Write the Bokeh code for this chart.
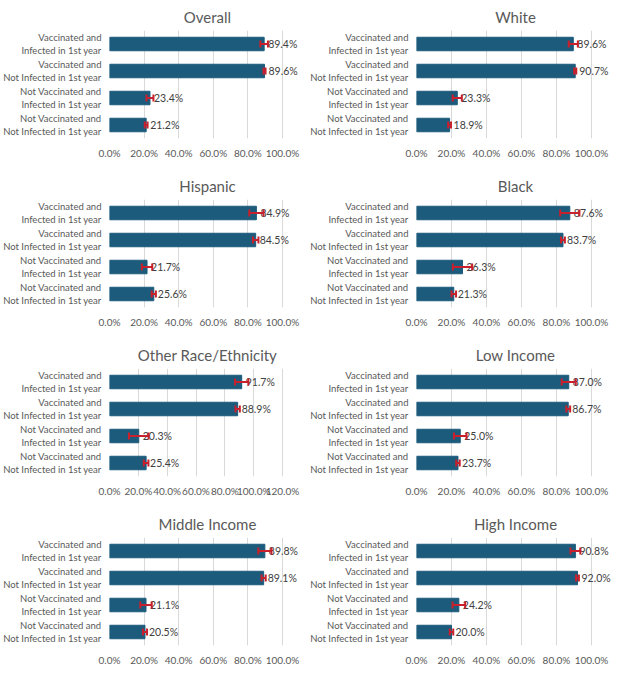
from bokeh.plotting import figure
from bokeh.models import ColumnDataSource, FixedTicker, PrintfTickFormatter, Whisker, TeeHead, Range1d
from bokeh.layouts import column, row
from bokeh.embed import file_html
from bokeh.resources import INLINE
from bokeh.core.properties import value

categories = [
    "Vaccinated and\nInfected in 1st year",
    "Vaccinated and\nNot Infected in 1st year",
    "Not Vaccinated and\nInfected in 1st year",
    "Not Vaccinated and\nNot Infected in 1st year",
]
titles = ["Overall", "White", "Hispanic", "Black",
          "Other Race/Ethnicity", "Low Income", "Middle Income", "High Income"]

overall = [89.4, 89.6, 23.4, 21.2]
overall_err = [2.2, 0.6, 2.0, 0.8]
white = [89.6, 90.7, 23.3, 18.9]
white_err = [2.6, 0.6, 2.6, 0.8]
hispanic = [84.9, 84.5, 21.7, 25.6]
hispanic_err = [4.1, 1.6, 3.0, 1.2]
black = [87.6, 83.7, 26.3, 21.3]
black_err = [5.5, 1.1, 5.5, 1.3]
other = [91.7, 88.9, 20.3, 25.4]
other_err = [4.6, 1.5, 6.8, 1.6]
low = [87.0, 86.7, 25.0, 23.7]
low_err = [4.0, 1.1, 3.6, 1.0]
middle = [89.8, 89.1, 21.1, 20.5]
middle_err = [3.8, 1.2, 3.3, 1.2]
high = [90.8, 92.0, 24.2, 20.0]
high_err = [2.8, 0.8, 3.6, 1.0]

ticks_std = [0, 20, 40, 60, 80, 100]
ticks_other = [0, 20, 40, 60, 80, 100, 120]

series = [overall, white, hispanic, black, other, low, middle, high]
errors = [overall_err, white_err, hispanic_err, black_err, other_err, low_err, middle_err, high_err]
tick_sets = [ticks_std, ticks_std, ticks_std, ticks_std, ticks_other, ticks_std, ticks_std, ticks_std]

BAR = "#1C5B7C"
RED = "#C8202C"
GRAY = "#595959"
FONT = "Lato"
ypos = [4, 3, 2, 1]

def make_panel(i):
    col = i % 2
    r = i // 2
    vals = series[i]
    errs = errors[i]
    ticks = tick_sets[i]
    BL, BR = 102, 2
    if col == 0:
        FW, toff, span = 196, -56, 173.0
    else:
        FW, toff, span = 198, -40, 175.0
    scale = span / ticks[-1]
    R = FW / scale
    T = 26 if r == 0 else 35
    B = 20 if r == 3 else 26
    src = ColumnDataSource(dict(
        y=ypos, v=vals,
        lo=[v - e for v, e in zip(vals, errs)],
        hi=[v + e for v, e in zip(vals, errs)],
        lab=["%.1f%%" % v for v in vals],
    ))
    p = figure(frame_width=FW, frame_height=108, x_range=Range1d(0, R), y_range=Range1d(0.5, 4.5),
               output_backend="svg", toolbar_location=None, title=titles[i],
               min_border_left=BL, min_border_right=BR, min_border_top=T, min_border_bottom=B)
    p.title.align = "center"
    p.title.offset = toff
    p.title.text_font_size = "15px"
    p.title.text_font_style = "normal"
    p.title.text_color = GRAY
    p.title.text_font = FONT
    p.title.standoff = 10
    p.outline_line_color = None
    p.background_fill_color = "white"
    p.border_fill_color = "white"

    p.hbar(y="y", left=0, right="v", height=0.5, fill_color=BAR, line_color=BAR, source=src)
    p.text(x="v", y="y", text="lab", x_offset=4, text_baseline="middle", text_align="left",
           text_font_size="10.5px", text_color="#404040", text_font=value(FONT), source=src)
    w = Whisker(source=src, base="y", lower="lo", upper="hi", dimension="width",
                line_color=RED, line_width=2, level="annotation",
                lower_head=TeeHead(size=7, line_color=RED, line_width=2),
                upper_head=TeeHead(size=7, line_color=RED, line_width=2))
    p.add_layout(w)

    p.xaxis.ticker = FixedTicker(ticks=ticks)
    p.xaxis.formatter = PrintfTickFormatter(format="%.1f%%")
    p.xaxis.axis_line_color = None
    p.xaxis.major_tick_line_color = None
    p.xaxis.minor_tick_line_color = None
    p.xaxis.major_tick_out = 0
    p.xaxis.major_tick_in = 0
    p.xaxis.minor_tick_out = 0
    p.xaxis.major_label_text_font_size = "10px"
    p.xaxis.major_label_text_color = GRAY
    p.xaxis.major_label_text_font = FONT
    p.xaxis.major_label_standoff = 8

    p.yaxis.ticker = FixedTicker(ticks=ypos)
    p.yaxis.major_label_overrides = {y: c for y, c in zip(ypos, categories)}
    p.yaxis.axis_line_color = None
    p.yaxis.major_tick_line_color = None
    p.yaxis.minor_tick_line_color = None
    p.yaxis.major_tick_out = 0
    p.yaxis.major_tick_in = 0
    p.yaxis.minor_tick_out = 0
    p.yaxis.major_label_text_font_size = "9.5px"
    p.yaxis.major_label_text_color = GRAY
    p.yaxis.major_label_text_font = FONT
    p.yaxis.major_label_standoff = 8

    p.ygrid.grid_line_color = None
    p.xgrid.grid_line_color = "#D9D9D9"
    p.xgrid.grid_line_width = 1
    return p

panels = [make_panel(i) for i in range(8)]
layout = column(*[row(panels[2 * k], panels[2 * k + 1]) for k in range(4)])

open("out.html", "w").write(file_html(layout, INLINE))
